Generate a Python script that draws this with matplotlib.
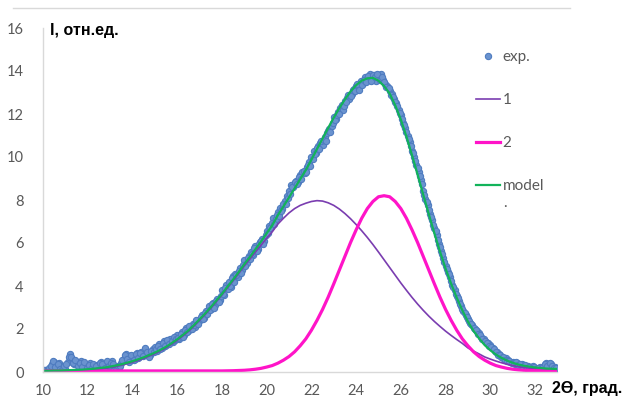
import numpy as np
import matplotlib
matplotlib.use("Agg")
import matplotlib.pyplot as plt
from matplotlib.lines import Line2D

# fitted curves, read every 0.25 deg from 10 to 33
curve_x = np.round(np.arange(10.0, 33.01, 0.25), 2)
peak1 = [0.01, 0.01, 0.02, 0.02, 0.03, 0.04, 0.05, 0.06, 0.08, 0.10,
         0.13, 0.16, 0.20, 0.25, 0.31, 0.38, 0.45, 0.54, 0.63, 0.74,
         0.85, 0.98, 1.12, 1.29, 1.47, 1.67, 1.88, 2.13, 2.40, 2.67,
         2.96, 3.27, 3.58, 3.91, 4.24, 4.58, 4.93, 5.25, 5.58, 5.90,
         6.22, 6.52, 6.88, 7.15, 7.40, 7.60, 7.75, 7.85, 7.93, 7.97,
         7.95, 7.87, 7.75, 7.58, 7.37, 7.13, 6.86, 6.57, 6.26, 5.93,
         5.58, 5.22, 4.86, 4.50, 4.14, 3.80, 3.47, 3.16, 2.87, 2.60,
         2.35, 2.12, 1.90, 1.70, 1.51, 1.33, 1.12, 0.97, 0.84, 0.70,
         0.60, 0.51, 0.43, 0.36, 0.30, 0.25, 0.21, 0.18, 0.15, 0.13,
         0.11, 0.10, 0.09]
peak2 = [0.05, 0.05, 0.05, 0.05, 0.05, 0.05, 0.05, 0.05, 0.05, 0.05,
         0.05, 0.05, 0.05, 0.05, 0.05, 0.05, 0.05, 0.05, 0.05, 0.05,
         0.05, 0.05, 0.05, 0.05, 0.05, 0.05, 0.05, 0.05, 0.05, 0.05,
         0.05, 0.05, 0.05, 0.055, 0.06, 0.07, 0.08, 0.10, 0.13, 0.17,
         0.23, 0.30, 0.41, 0.55, 0.72, 0.94, 1.22, 1.54, 1.94, 2.40,
         2.91, 3.48, 4.10, 4.74, 5.38, 6.02, 6.61, 7.15, 7.60, 7.93,
         8.15, 8.20, 8.15, 7.93, 7.60, 7.15, 6.61, 6.02, 5.38, 4.74,
         4.10, 3.48, 2.91, 2.40, 1.94, 1.54, 1.22, 0.94, 0.72, 0.55,
         0.41, 0.30, 0.23, 0.17, 0.13, 0.10, 0.08, 0.07, 0.06, 0.055,
         0.05, 0.05, 0.05]
model = [0.06, 0.06, 0.07, 0.07, 0.08, 0.09, 0.10, 0.11, 0.13, 0.15,
         0.18, 0.21, 0.25, 0.30, 0.36, 0.43, 0.50, 0.59, 0.68, 0.79,
         0.90, 1.03, 1.17, 1.34, 1.52, 1.72, 1.93, 2.18, 2.45, 2.72,
         3.01, 3.32, 3.63, 3.97, 4.30, 4.65, 5.01, 5.35, 5.71, 6.07,
         6.45, 6.82, 7.29, 7.70, 8.12, 8.54, 8.97, 9.39, 9.87, 10.37,
         10.86, 11.35, 11.83, 12.28, 12.68, 13.05, 13.34, 13.55, 13.66, 13.68,
         13.55, 13.30, 12.95, 12.40, 11.74, 10.95, 10.08, 9.18, 8.25, 7.34,
         6.45, 5.60, 4.81, 4.10, 3.45, 2.87, 2.34, 1.91, 1.56, 1.25,
         1.01, 0.81, 0.66, 0.53, 0.43, 0.35, 0.29, 0.25, 0.21, 0.185,
         0.16, 0.15, 0.14]

# measured points: one row every 0.1 deg from 10.0, a second row shifted by 0.05
exp_x1 = np.round(np.arange(10.0, 32.95, 0.1), 2)
exp_y1 = [0.05, 0.08, 0.04, 0.12, 0.35, 0.48, 0.30, 0.42, 0.18, 0.22,
          0.15, 0.45, 0.82, 0.60, 0.35, 0.48, 0.25, 0.52, 0.30, 0.38,
          0.18, 0.40, 0.25, 0.12, 0.32, 0.20, 0.45, 0.28, 0.22, 0.36,
          0.30, 0.52, 0.22, 0.10, 0.18, 0.40, 0.62, 0.85, 0.70, 0.55,
          0.75, 0.62, 0.90, 0.70, 0.95, 0.82, 1.00, 0.88, 0.80, 1.05,
          1.15, 0.98, 1.30, 1.12, 1.42, 1.25, 1.35, 1.55, 1.40, 1.48,
          1.70, 1.55, 1.85, 1.72, 2.05, 1.90, 2.00, 2.25, 2.10, 2.30,
          2.40, 2.65, 2.50, 2.85, 3.05, 2.95, 3.20, 3.10, 3.40, 3.35,
          3.80, 3.60, 4.05, 4.20, 3.95, 4.45, 4.55, 4.40, 4.85, 4.75,
          5.20, 5.05, 5.40, 5.60, 5.45, 5.85, 5.70, 6.05, 6.20, 6.10,
          6.55, 6.80, 6.75, 7.15, 7.10, 7.45, 7.65, 7.60, 7.95, 8.20,
          8.40, 8.70, 8.60, 8.90, 8.85, 9.15, 9.30, 9.25, 9.55, 9.75,
          10.00, 10.30, 10.20, 10.50, 10.65, 10.55, 10.95, 11.10, 11.30, 11.45,
          11.85, 11.75, 12.10, 12.30, 12.20, 12.60, 12.75, 12.70, 12.95, 13.15,
          13.30, 13.20, 13.55, 13.45, 13.70, 13.60, 13.85, 13.65, 13.80, 13.55,
          13.75, 13.85, 13.60, 13.40, 13.30, 13.05, 12.95, 12.70, 12.50, 12.20,
          11.95, 11.60, 11.35, 11.00, 10.70, 10.30, 10.00, 9.65, 9.30, 8.95,
          8.40, 8.05, 7.75, 7.35, 7.05, 6.70, 6.35, 5.95, 5.65, 5.30,
          4.95, 4.65, 4.40, 4.05, 3.80, 3.55, 3.30, 3.05, 2.85, 2.65,
          2.45, 2.30, 2.20, 2.00, 1.90, 1.80, 1.62, 1.55, 1.40, 1.35,
          1.25, 1.10, 1.00, 0.92, 0.85, 0.70, 0.62, 0.66, 0.55, 0.48,
          0.45, 0.38, 0.42, 0.30, 0.35, 0.28, 0.25, 0.30, 0.22, 0.26,
          0.20, 0.15, 0.22, 0.18, 0.28, 0.40, 0.32, 0.38, 0.22, 0.25]
exp_x2 = np.round(np.arange(10.05, 33.0, 0.1), 2)
exp_y2 = [0.10, 0.06, 0.20, 0.28, 0.52, 0.25, 0.38, 0.15, 0.10, 0.30,
          0.35, 0.68, 0.70, 0.42, 0.55, 0.30, 0.40, 0.22, 0.45, 0.20,
          0.32, 0.15, 0.38, 0.30, 0.10, 0.42, 0.35, 0.18, 0.50, 0.28,
          0.42, 0.35, 0.08, 0.30, 0.28, 0.55, 0.78, 0.60, 0.45, 0.80,
          0.58, 0.82, 0.65, 0.88, 0.75, 1.10, 0.92, 0.72, 1.00, 0.95,
          1.05, 1.22, 1.08, 1.35, 1.20, 1.50, 1.30, 1.45, 1.62, 1.55,
          1.60, 1.78, 1.65, 1.95, 1.85, 2.15, 1.98, 2.20, 2.40, 2.25,
          2.55, 2.45, 2.75, 2.70, 2.90, 3.15, 3.00, 3.30, 3.25, 3.55,
          3.65, 3.90, 3.85, 4.00, 4.35, 4.20, 4.50, 4.70, 4.60, 5.00,
          4.95, 5.30, 5.25, 5.50, 5.75, 5.65, 5.95, 6.10, 5.95, 6.35,
          6.45, 6.70, 6.95, 6.90, 7.30, 7.25, 7.50, 7.80, 7.80, 8.10,
          8.30, 8.60, 8.85, 8.75, 9.05, 9.00, 9.35, 9.30, 9.65, 9.60,
          9.90, 10.15, 10.40, 10.35, 10.75, 10.80, 10.75, 11.20, 11.15, 11.60,
          11.70, 11.95, 12.00, 12.40, 12.35, 12.55, 12.90, 12.85, 13.10, 13.05,
          13.40, 13.10, 13.35, 13.60, 13.50, 13.75, 13.55, 13.80, 13.70, 13.85,
          13.60, 13.70, 13.50, 13.25, 13.20, 12.90, 12.80, 12.55, 12.35, 12.05,
          11.75, 11.50, 11.15, 10.85, 10.50, 10.20, 9.80, 9.50, 9.10, 8.75,
          8.25, 7.90, 7.55, 7.20, 6.85, 6.55, 6.15, 5.80, 5.50, 5.10,
          4.80, 4.55, 4.25, 3.95, 3.65, 3.45, 3.15, 2.95, 2.75, 2.55,
          2.35, 2.25, 2.05, 1.95, 1.75, 1.70, 1.55, 1.45, 1.35, 1.20,
          1.15, 1.05, 0.95, 0.80, 0.78, 0.72, 0.58, 0.52, 0.50, 0.42,
          0.40, 0.45, 0.32, 0.36, 0.25, 0.32, 0.20, 0.25, 0.18, 0.22,
          0.16, 0.20, 0.12, 0.25, 0.35, 0.30, 0.42, 0.28, 0.18, 0.20]

x_ticks = list(range(10, 33, 2))
y_ticks = list(range(0, 17, 2))

plt.rcParams['font.family'] = ['Lato', 'DejaVu Sans']

fig = plt.figure(figsize=(6.25, 3.99), dpi=100)
ax = fig.add_axes([43 / 625, 27 / 399, 514.4 / 625, 344 / 399])

exp_x = np.concatenate([exp_x1, exp_x2])
exp_y = np.concatenate([exp_y1, exp_y2])
ax.plot(exp_x, exp_y, linestyle='none', marker='o', markersize=4.5,
        markerfacecolor='#6A93CF', markeredgecolor='#4F7CC0',
        markeredgewidth=0.8, label='exp.')
ax.plot(curve_x, peak1, color='#7A3DB0', linewidth=1.2, label='1')
ax.plot(curve_x, peak2, color='#FF14C8', linewidth=2.3, label='2')
ax.plot(curve_x, model, color='#12B35A', linewidth=1.6, label='model')

ax.set_xlim(10, 33)
ax.set_ylim(0, 16)
ax.set_xticks(x_ticks)
ax.set_yticks(y_ticks)
ax.tick_params(length=0, labelsize=10.5, labelcolor='#595959')
ax.tick_params(axis='y', pad=14)
ax.tick_params(axis='x', pad=8.5)
for side in ['top', 'right']:
    ax.spines[side].set_visible(False)
for side in ['left', 'bottom']:
    ax.spines[side].set_color('#D9D9D9')
    ax.spines[side].set_linewidth(1.0)

leg = ax.legend(loc='upper left', bbox_to_anchor=(476 / 625, 1 - 50 / 399),
                bbox_transform=fig.transFigure, frameon=False, fontsize=11,
                labelspacing=1.9, handlelength=1.55, handletextpad=0.2,
                borderpad=0, borderaxespad=0)
for t in leg.get_texts():
    t.set_color('#595959')
fig.text(505 / 625, 1 - 203 / 399, '.', color='#595959', fontsize=11,
         ha='center', va='center')

fig.text(50 / 625, 1 - 31 / 399, 'I, отн.ед.', fontsize=11.5,
         fontweight='bold', family=['Liberation Sans', 'DejaVu Sans'],
         va='center', ha='left')
fig.text(552 / 625, 1 - 388 / 399, '2Ɵ, град.', fontsize=11.5,
         fontweight='bold', family=['Liberation Sans', 'DejaVu Sans'],
         va='center', ha='left')

# thin frame line along the top of the chart area
fig.add_artist(Line2D([13 / 625, 570 / 625], [1 - 8 / 399, 1 - 8 / 399],
                      transform=fig.transFigure, color='#D9D9D9',
                      linewidth=1.0))

fig.savefig('out.png', dpi=100)
